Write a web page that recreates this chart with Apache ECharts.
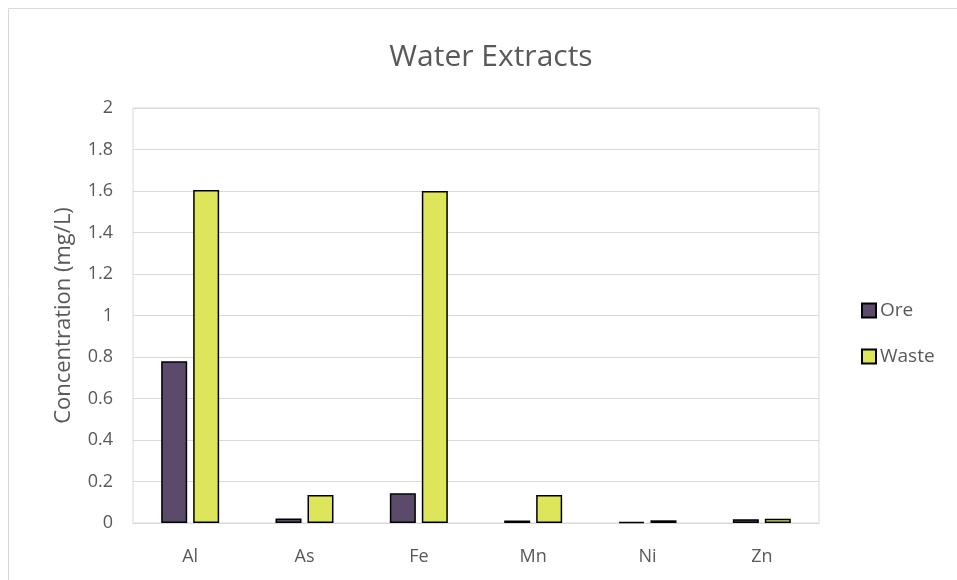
<!DOCTYPE html>
<html><head><meta charset="utf-8">
<script src="https://cdn.jsdelivr.net/npm/echarts@6/dist/echarts.min.js"></script>
<style>html,body{margin:0;padding:0;background:#fff}#c{width:957px;height:580px}</style>
</head><body><div id="c"></div>
<script>
const categories = ['Al','As','Fe','Mn','Ni','Zn'];
const oreValues = [0.78, 0.022, 0.143, 0.012, 0.006, 0.018];
const wasteValues = [1.605, 0.135, 1.6, 0.135, 0.013, 0.021];
const yTicks = {min:0, max:2, interval:0.2};

const chart = echarts.init(document.getElementById('c'));
const font = '"Open Sans", "Noto Sans", sans-serif';
chart.setOption({
  animation:false,
  textStyle:{fontFamily:font},
  graphic:[{type:'rect',shape:{x:8.5,y:8.5,width:960,height:600},style:{fill:'none',stroke:'#d9d9d9',lineWidth:1},z:-1}],
  title:{text:'Water Extracts',left:486,top:37,textAlign:'center',textStyle:{fontSize:30,fontWeight:'normal',color:'#595959',fontFamily:font}},
  legend:{orient:'vertical',left:861,top:301,padding:0,itemWidth:14,itemHeight:14,itemGap:27,
    textStyle:{fontSize:19,color:'#595959',fontFamily:font,padding:[0,0,0,-1]},
    data:[{name:'Ore',icon:'rect'},{name:'Waste',icon:'rect'}]},
  grid:{left:133,right:138,top:108,bottom:57,show:true,borderColor:'#d9d9d9',borderWidth:1},
  xAxis:{type:'category',data:categories,axisTick:{show:false},
    axisLine:{lineStyle:{color:'#d9d9d9'}},
    axisLabel:{fontSize:18,color:'#595959',margin:25,fontFamily:font}},
  yAxis:{type:'value',min:yTicks.min,max:yTicks.max,interval:yTicks.interval,
    name:'Concentration (mg/L)',nameLocation:'middle',nameGap:58,
    nameTextStyle:{fontSize:22,color:'#595959',fontFamily:font},
    axisLine:{show:false},axisTick:{show:false},
    splitLine:{lineStyle:{color:'#d9d9d9'}},
    axisLabel:{fontSize:18,color:'#595959',margin:20,fontFamily:font,
      formatter:v=>String(Math.round(v*10)/10)}},
  series:[
    {name:'Ore',type:'bar',data:oreValues,barWidth:26,barGap:'23%',
      itemStyle:{color:'#5c4a6b',borderColor:'#000',borderWidth:1.5}},
    {name:'Waste',type:'bar',data:wasteValues,barWidth:26,
      itemStyle:{color:'#dde65a',borderColor:'#000',borderWidth:1.5}}
  ]
});
</script></body></html>
